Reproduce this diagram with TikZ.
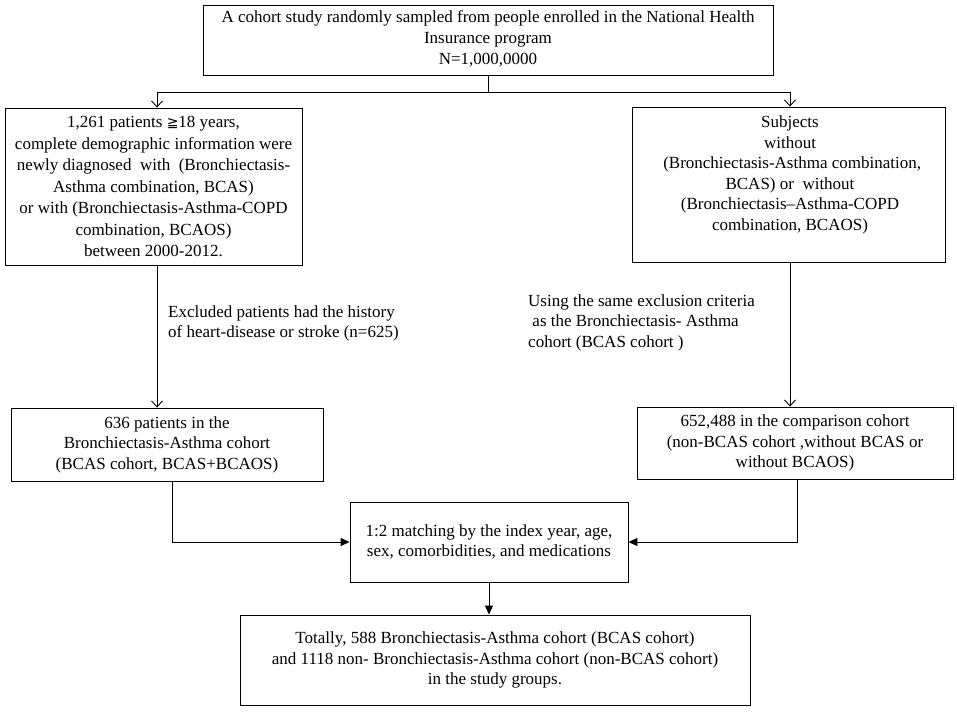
\documentclass[tikz,border=0pt]{standalone}
\usepackage{fontspec}
\setmainfont{Liberation Serif}
\newfontfamily\symfont{DejaVu Sans}
\usetikzlibrary{arrows.meta}
\begin{document}
\begin{tikzpicture}[x=1pt,y=-1pt,
  box/.style={draw,line width=0.9pt,rectangle,inner sep=0pt,align=center,font=\fontsize{17}{20.5}\selectfont},
  lbl/.style={inner sep=0pt,align=left,anchor=north west,font=\fontsize{17}{20.5}\selectfont},
  openarr/.style={-{Straight Barb[length=6pt,width=11pt]},line width=0.9pt},
  fillarr/.style={-{Triangle[length=9pt,width=8pt]},line width=0.9pt},
  plain/.style={line width=0.9pt}]
\useasboundingbox (0,0) rectangle (957,712);
\node[box,minimum width=570pt,minimum height=70pt] (top) at (488,40) {};
\node[inner sep=0pt,align=center,anchor=north,font=\fontsize{17}{21}\selectfont] (topt) at (488,10)
 {A cohort study randomly sampled from people enrolled in the National Health\\ Insurance program\\ N=1,000,0000};
\node[box,minimum width=297pt,minimum height=157pt,font=\fontsize{17}{21.5}\selectfont] (L) at (153.5,186.5)
 {1,261 patients {\symfont\fontsize{14}{21.5}\selectfont ≧}18 years,\\
 complete demographic information were\\
 newly diagnosed\ \ with\ \ (Bronchiectasis-\\
 Asthma combination, BCAS)\\
 or with (Bronchiectasis-Asthma-COPD\\
 combination, BCAOS)\\
 between 2000-2012.};
\node[box,minimum width=313pt,minimum height=155pt] (R) at (788.5,184.5) {};
\node[inner sep=0pt,align=center,anchor=north,font=\fontsize{17}{20.5}\selectfont] (Rt) at (790,116)
 {Subjects\\ without\\ \ (Bronchiectasis-Asthma combination,\\ BCAS) or\ \ without\\ (Bronchiectasis–Asthma-COPD\\ combination, BCAOS)};
\node[box,minimum width=312pt,minimum height=73pt] (B1) at (167,444.5)
 {636 patients in the\\ Bronchiectasis-Asthma cohort\\ (BCAS cohort, BCAS+BCAOS)};
\node[box,minimum width=316pt,minimum height=72pt] (B2) at (795,443)
 {652,488 in the comparison cohort\\ (non-BCAS cohort ,without BCAS or\\ without BCAOS)};
\node[box,minimum width=278pt,minimum height=80pt] (M) at (489,542)
 {1:2 matching by the index year, age,\\ sex, comorbidities, and medications};
\node[box,minimum width=510pt,minimum height=90pt] (F) at (495,660)
 {Totally, 588 Bronchiectasis-Asthma cohort (BCAS cohort)\\ and 1118 non- Bronchiectasis-Asthma cohort (non-BCAS cohort)\\ in the study groups.};
\node[lbl] (ex) at (168,305) {Excluded patients had the history\\ of heart-disease or stroke (n=625)};
\node[lbl] (us) at (528,294) {Using the same exclusion criteria\\ \ as the Bronchiectasis- Asthma\\ cohort (BCAS cohort )};
\coordinate (j) at (488,92);
\coordinate (jl) at (157,92);
\coordinate (jr) at (790,92);
\draw[plain] (top.south) -- (j);
\draw[openarr] (j) -- (jl) -- (L.north -| jl);
\draw[openarr] (j) -- (jr) -- (R.north -| jr);
\draw[openarr] (L.south -| jl) -- (B1.north -| jl);
\draw[openarr] (R.south -| jr) -- (B2.north -| jr);
\coordinate (cl) at (172,542);
\coordinate (cr) at (797,542);
\draw[fillarr] (B1.south -| cl) -- (cl) -- (M.west);
\draw[fillarr] (B2.south -| cr) -- (cr) -- (M.east);
\draw[fillarr] (M.south) -- (F.north -| M.south);
\end{tikzpicture}
\end{document}
